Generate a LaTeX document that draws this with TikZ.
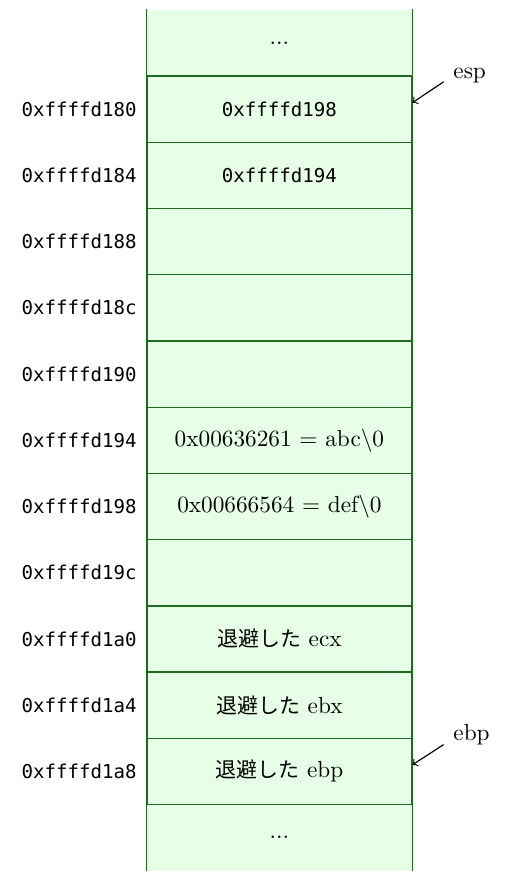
\documentclass[tikz,border=0pt]{standalone}
\usepackage{fontspec}
\setmonofont{DejaVu Sans Mono}[Scale=0.82]
\newfontfamily\jpfont{Noto Sans CJK JP}[Scale=0.9]
\usetikzlibrary{positioning}
\definecolor{stackfill}{HTML}{E6FFE6}
\definecolor{stackline}{HTML}{1F6B1F}

\begin{document}
\begin{tikzpicture}[
		cell/.style = {draw = stackline, line width = 0.6pt, fill = stackfill, minimum width = 4cm, minimum height = 1cm, inner sep = 0pt},
		endcell/.style = {fill = stackfill, minimum width = 4cm, minimum height = 1cm, inner sep = 0pt},
		addr/.style = {font = \ttfamily, inner sep = 4pt},
		reg/.style = {inner sep = 4pt, text height = 6.9pt, text depth = 1.9pt, anchor = base west}
	]
		\useasboundingbox (0, 0) rectangle (7.76, -13.17);
		\node[endcell] (r0) at (4.22, -0.65) {...};
		\node[endcell] (r12) at (4.22, -12.65) {...};
		\foreach \i/\a/\t in {1/180/\texttt{0xffffd198}, 2/184/\texttt{0xffffd194}, 3/188/{}, 4/18c/{}, 5/190/{},
				6/194/{0x00636261 = abc\textbackslash 0}, 7/198/{0x00666564 = def\textbackslash 0}, 8/19c/{},
				9/1a0/{{\jpfont 退避した} ecx}, 10/1a4/{{\jpfont 退避した} ebx}, 11/1a8/{{\jpfont 退避した} ebp}} {
			\node[cell] (r\i) at (4.22, -0.65 - \i) {\t};
			\node[addr, left = 0pt of r\i] (a\i) {0xffffd\a};
		}
		\draw[stackline, line width = 0.6pt] (r0.north west) -- (r12.south west) (r0.north east) -- (r12.south east);
		% registers
		\node[reg] (esp) at ([xshift = 0.47cm, yshift = 0.47cm] r1.east) {esp};
		\node[reg] (ebp) at ([xshift = 0.47cm, yshift = 0.47cm] r11.east) {ebp};
		\coordinate[yshift = 0.1cm] (esptip) at (r1.east);
		\coordinate[yshift = 0.1cm] (ebptip) at (r11.east);
		\draw[->, line width = 0.5pt] (esp.200) to (esptip);
		\draw[->, line width = 0.5pt] (ebp.200) to (ebptip);
	\end{tikzpicture}
\end{document}
